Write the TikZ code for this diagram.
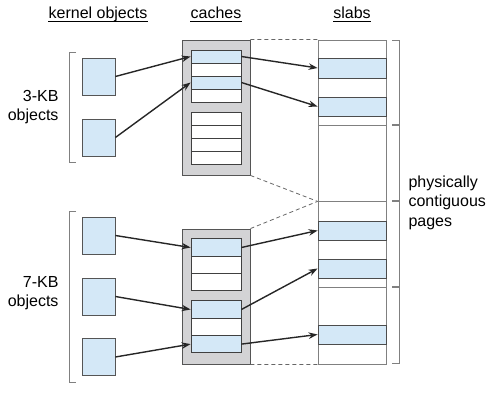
\documentclass[tikz,border=0pt]{standalone}
\usepackage{fontspec}
\setmainfont{Liberation Sans}
\usetikzlibrary{arrows.meta,calc}
\definecolor{objFill}{HTML}{D4E8F7}
\definecolor{cacheFill}{HTML}{D3D3D5}
\definecolor{boxDraw}{HTML}{555555}
\definecolor{slabDraw}{HTML}{808080}
\tikzset{
  font=\fontsize{16}{19.5}\selectfont,
  obj/.style  ={draw=boxDraw, fill=objFill, minimum width=33pt, minimum height=37pt, inner sep=0pt, line width=0.8pt},
  cache/.style={draw=boxDraw, fill=cacheFill, minimum width=68pt, minimum height=135pt, inner sep=0pt, line width=0.9pt},
  slot/.style ={draw=black!75, fill=white, minimum width=50pt, inner sep=0pt, line width=0.8pt},
  full/.style ={slot, fill=objFill},
  slab/.style ={draw=slabDraw, fill=white, minimum width=68pt, inner sep=0pt, line width=0.8pt},
  page/.style ={draw=black!70, fill=objFill, minimum width=68pt, minimum height=19pt, inner sep=0pt, line width=0.8pt},
  arr/.style  ={-{Stealth[length=9pt,width=6.5pt]}, line width=1.4pt, draw=black!85},
  link/.style ={dash pattern=on 4pt off 3pt, draw=black!60, line width=0.8pt},
  brk/.style  ={draw=slabDraw, line width=0.9pt},
  hdr/.style  ={anchor=base, inner xsep=0pt},
  uline/.style={line width=0.9pt},
}

\begin{document}
\begin{tikzpicture}[x=1pt, y=-1pt]
  \useasboundingbox (0,0) rectangle (494,403);

  % headers
  \node[hdr] (hkern)  at (98,18.5)  {kernel objects};
  \node[hdr] (hcache) at (216,18.5) {caches};
  \node[hdr] (hslab)  at (352,18.5) {slabs};
  \foreach \h in {hkern,hcache,hslab}
    \draw[uline] ([yshift=-2.8pt]\h.base west) -- ([yshift=-2.8pt]\h.base east);

  % kernel objects
  \node[obj] (k1) at (98.5,76.5)  {};
  \node[obj] (k2) at (98.5,137.5) {};
  \node[obj] (k3) at (98.5,235.5) {};
  \node[obj] (k4) at (98.5,296.5) {};
  \node[obj] (k5) at (98.5,357)   {};
  \draw[brk] (76,52) -| (69,162) -- (76,162);
  \draw[brk] (76,211) -| (69,382) -- (76,382);
  \node[anchor=east, align=right] (l3) at (62,107) {3-KB\\objects};
  \node[anchor=east, align=right] (l7) at (62,293) {7-KB\\objects};

  % caches
  \node[cache] (c1) at (216,107.5) {};
  \node[cache] (c2) at (216,296.5) {};
  \foreach \y/\s [count=\i] in {56.5/full,69.5/slot,82.5/full,95.5/slot,118.5/slot,131.5/slot,144.5/slot,157.5/slot}
    \node[\s, minimum height=13pt] (c1s\i) at (216,\y) {};
  \foreach \y/\s [count=\i] in {247.5/full,264.8/slot,282.1/slot,309.5/full,326.8/slot,344.1/full}
    \node[\s, minimum height=17.3pt] (c2s\i) at (216,\y) {};

  % slabs
  \node[slab, minimum height=85pt] (s1) at (352,82.5)  {};
  \node[slab, minimum height=76pt] (s2) at (352,163)   {};
  \node[slab, minimum height=86pt] (s3) at (352,244)   {};
  \node[slab, minimum height=77pt] (s4) at (352,325.5) {};
  \node[page, minimum height=20pt] (b1) at (352,68)    {};
  \node[page] (b2) at (352,106.5) {};
  \node[page] (b3) at (352,230.5) {};
  \node[page] (b4) at (352,268.5) {};
  \node[page] (b5) at (352,334.5) {};
  \foreach \s in {s1,s2,s3,s4}
    \draw[brk] ([xshift=6pt,yshift=-1pt]\s.north east) -- ++(7,0) |- ([xshift=6pt,yshift=1pt]\s.south east);
  \node[anchor=west, align=left] (pg) at (405,202.5) {physically\\contiguous\\pages};

  % cache to slab outline
  \draw[link] (c1.north east) -- (s1.north west);
  \draw[link] (c1.south east) -- (s2.south west);
  \draw[link] (c2.north east) -- (s2.south west);
  \draw[link] (c2.south east) -- (s4.south west);

  % pointers
  \draw[arr] (k1.east) -- (c1s1.west);
  \draw[arr] (k2.east) -- (c1s3.west);
  \draw[arr] (c1s1.east) -- (b1.west);
  \draw[arr] (c1s3.east) -- (b2.west);
  \draw[arr] (k3.east) -- (c2s1.west);
  \draw[arr] (k4.east) -- (c2s4.west);
  \draw[arr] (k5.east) -- (c2s6.west);
  \draw[arr] (c2s1.east) -- (b3.west);
  \draw[arr] (c2s4.east) -- (b4.west);
  \draw[arr] (c2s6.east) -- (b5.west);
\end{tikzpicture}
\end{document}
